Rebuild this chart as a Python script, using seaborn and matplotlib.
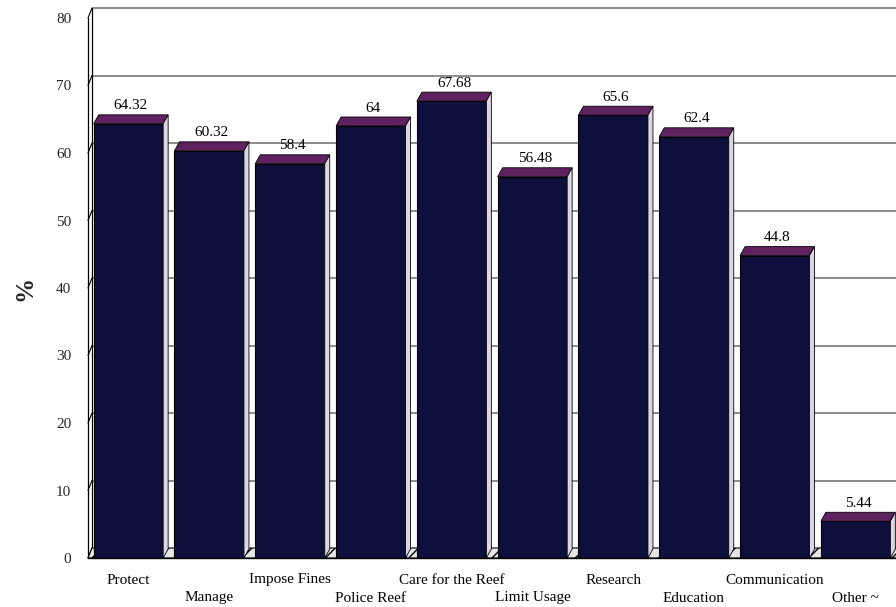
import matplotlib
matplotlib.use("Agg")
import matplotlib.pyplot as plt
import seaborn as sns
import pandas as pd
from matplotlib.patches import Polygon

categories = ["Protect", "Manage", "Impose Fines", "Police Reef", "Care for the Reef",
              "Limit Usage", "Research", "Education", "Communication", "Other ~"]
values = [64.32, 60.32, 58.4, 64, 67.68, 56.48, 65.6, 62.4, 44.8, 5.44]
value_labels = ["64.32", "60.32", "58.4", "64", "67.68", "56.48", "65.6", "62.4", "44.8", "5.44"]
yticks = [0, 10, 20, 30, 40, 50, 60, 70, 80]

FRONT = "#0f0f3c"
TOP = "#5e2260"
SIDE = "#dcd6e2"
GRID = "#6e6e6e"

sns.set_theme(style="white")
plt.rcParams["font.family"] = ["Liberation Serif", "DejaVu Serif"]

W, H = 896, 607
fig = plt.figure(figsize=(W / 100, H / 100), dpi=100)
ax_left, ax_right, ax_top, ax_bot = 88, 896, 18, 558
ax = fig.add_axes([ax_left / W, 1 - ax_bot / H, (ax_right - ax_left) / W, (ax_bot - ax_top) / H])

df = pd.DataFrame({"cat": categories, "val": values})
sns.barplot(data=df, x="cat", y="val", color=FRONT, saturation=1, width=0.86,
            edgecolor="black", linewidth=0.8, ax=ax, zorder=3)

xmin, xmax = -0.5, 9.5
ymax = 80
ax.set_xlim(xmin, xmax)
ax.set_ylim(0, ymax)

# depth in data units
px_x = (xmax - xmin) / (ax_right - ax_left)
px_y = ymax / (ax_bot - ax_top)
dx, dy = 5 * px_x, 9 * px_y
gdx, gdy = 4 * px_x, 10 * px_y

# back-wall gridlines
ax.hlines([t + gdy for t in yticks[1:]], xmin + gdx, xmax, color=GRID, lw=1.1,
          zorder=0, clip_on=False)
# left wall
ax.plot([xmin, xmin], [0, ymax], color="black", lw=0.9, clip_on=False, zorder=1)
ax.plot([xmin + gdx, xmin + gdx], [gdy, ymax + gdy], color="black", lw=0.9, clip_on=False, zorder=1)
for t in yticks:
    ax.plot([xmin, xmin + gdx], [t, t + gdy], color="black", lw=0.8, clip_on=False, zorder=1)
# floor
floor = Polygon([(xmin, 0), (xmax, 0), (xmax + gdx, gdy), (xmin + gdx, gdy)], closed=True,
                facecolor="#e6e6e6", edgecolor="black", lw=0.8, hatch="//", zorder=1, clip_on=False)
ax.add_patch(floor)
ax.plot([xmin, xmax], [0, 0], color="black", lw=1.0, zorder=4, clip_on=False)

# 3D faces on bars
for p, lab in zip(ax.patches[:len(values)], value_labels):
    x0, w, h = p.get_x(), p.get_width(), p.get_height()
    top = Polygon([(x0, h), (x0 + w, h), (x0 + w + dx, h + dy), (x0 + dx, h + dy)],
                  closed=True, facecolor=TOP, edgecolor="black", lw=0.6, zorder=4, clip_on=False)
    side = Polygon([(x0 + w, 0), (x0 + w + dx, dy), (x0 + w + dx, h + dy), (x0 + w, h)],
                   closed=True, facecolor=SIDE, edgecolor="black", lw=0.6, zorder=4, clip_on=False)
    ax.add_patch(top)
    ax.add_patch(side)
    ax.text(x0 + w / 2 + dx / 2, h + dy + 0.35, lab, ha="center", va="bottom",
            fontsize=11, color="black", zorder=5)

# staggered category labels
ax.set_xticks(range(len(categories)))
ax.set_xticklabels([])
for i, c in enumerate(categories):
    off = -22 if i % 2 == 0 else -40
    ax.annotate(c, xy=(i, 0), xycoords=("data", "axes fraction"),
                xytext=(0, off * 0.72), textcoords="offset points",
                ha="center", va="center", fontsize=11, color="black")

ax.set_yticks(yticks)
ax.set_yticklabels([str(t) for t in yticks], fontsize=11)
ax.tick_params(axis="both", length=0)
ax.tick_params(axis="y", pad=12)
ax.set_xlabel("")
ax.set_ylabel("%", fontsize=18, fontweight="bold", labelpad=14)
for s in ax.spines.values():
    s.set_visible(False)
ax.grid(False)

fig.savefig("out.png", dpi=100)
